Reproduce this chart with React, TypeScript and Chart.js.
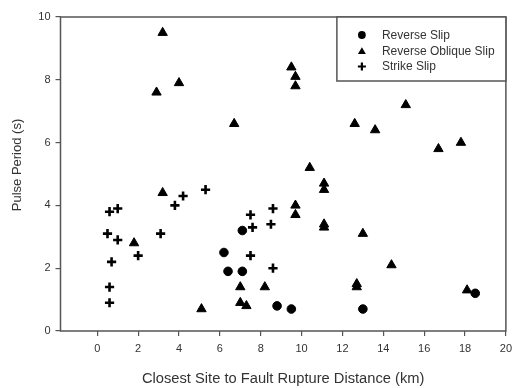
import React, { useEffect, useRef } from "react";
import { Chart, registerables } from "chart.js";

Chart.register(...registerables);

const xTicks = [0, 2, 4, 6, 8, 10, 12, 14, 16, 18, 20];
const yTicks = [0, 2, 4, 6, 8, 10];

const reverseX = [6.2, 6.4, 7.1, 7.1, 8.8, 9.5, 13.0, 18.5];
const reverseY = [2.5, 1.9, 1.9, 3.2, 0.8, 0.7, 0.7, 1.2];

const obliqueX = [3.2, 4.0, 2.9, 6.7, 9.5, 9.7, 9.7, 15.1, 12.6, 13.6, 16.7, 17.8, 10.4, 11.1, 11.1, 9.7, 9.7, 11.1, 11.1, 13.0, 14.4, 12.7, 12.7, 18.1, 3.2, 1.8, 5.1, 7.0, 8.2, 7.0, 7.3];
const obliqueY = [9.5, 7.9, 7.6, 6.6, 8.4, 8.1, 7.8, 7.2, 6.6, 6.4, 5.8, 6.0, 5.2, 4.7, 4.5, 4.0, 3.7, 3.4, 3.3, 3.1, 2.1, 1.5, 1.4, 1.3, 4.4, 2.8, 0.7, 1.4, 1.4, 0.9, 0.8];

const strikeX = [0.6, 1.0, 0.5, 1.0, 0.7, 0.6, 0.6, 2.0, 3.1, 3.8, 4.2, 5.3, 7.5, 8.6, 7.6, 8.5, 7.5, 8.6];
const strikeY = [3.8, 3.9, 3.1, 2.9, 2.2, 1.4, 0.9, 2.4, 3.1, 4.0, 4.3, 4.5, 3.7, 3.9, 3.3, 3.4, 2.4, 2.0];

const seriesNames = ["Reverse Slip", "Reverse Oblique Slip", "Strike Slip"];
const xTitle = "Closest Site to Fault Rupture Distance (km)";
const yTitle = "Pulse Period (s)";

const FONT = "Arial, 'Liberation Sans', sans-serif";
const AXIS = "#555555";
const TEXT = "#333333";

const toPts = (xs: number[], ys: number[]) => xs.map((x, i) => ({ x, y: ys[i] }));

function drawMarker(ctx: CanvasRenderingContext2D, kind: number, x: number, y: number) {
  ctx.fillStyle = "#000";
  ctx.strokeStyle = "#000";
  ctx.beginPath();
  if (kind === 0) {
    ctx.arc(x, y, 3.9, 0, Math.PI * 2);
    ctx.fill();
  } else if (kind === 1) {
    const r = 4.6;
    for (let k = 0; k < 3; k++) {
      const a = -Math.PI / 2 + (k * 2 * Math.PI) / 3;
      const px = x + Math.cos(a) * r;
      const py = y + 0.8 + Math.sin(a) * r;
      if (k === 0) ctx.moveTo(px, py);
      else ctx.lineTo(px, py);
    }
    ctx.closePath();
    ctx.fill();
  } else {
    ctx.lineWidth = 2.2;
    ctx.moveTo(x - 4, y);
    ctx.lineTo(x + 4, y);
    ctx.moveTo(x, y - 4);
    ctx.lineTo(x, y + 4);
    ctx.stroke();
  }
}

const framePlugin = {
  id: "frameLegend",
  afterDraw(chart: any) {
    const { ctx, chartArea } = chart;
    ctx.save();
    ctx.strokeStyle = AXIS;
    ctx.lineWidth = 1.5;
    ctx.strokeRect(chartArea.left, chartArea.top, chartArea.right - chartArea.left, chartArea.bottom - chartArea.top);

    // y title
    ctx.save();
    ctx.translate(17.5, (chartArea.top + chartArea.bottom) / 2 - 9);
    ctx.rotate(-Math.PI / 2);
    ctx.font = "13px " + FONT;
    ctx.fillStyle = TEXT;
    ctx.textAlign = "center";
    ctx.textBaseline = "middle";
    ctx.fillText(yTitle, 0, 0);
    ctx.restore();

    const w = 169;
    const h = 64;
    const lx = chartArea.right - w;
    const ly = chartArea.top;
    ctx.fillStyle = "#ffffff";
    ctx.fillRect(lx, ly, w, h);
    ctx.strokeStyle = AXIS;
    ctx.lineWidth = 1.5;
    ctx.strokeRect(lx, ly, w, h);
    const rows = [18, 34, 49.5];
    ctx.font = "12px " + FONT;
    ctx.textBaseline = "middle";
    chart.data.datasets.forEach((ds: any, i: number) => {
      const y = ly + rows[i];
      drawMarker(ctx, i, lx + 25, y);
      ctx.fillStyle = TEXT;
      ctx.fillText(ds.label, lx + 45, y + 0.5);
    });
    ctx.restore();
  },
};

export default function App() {
  const ref = useRef<HTMLCanvasElement>(null);
  useEffect(() => {
    if (!ref.current) return;
    const chart = new Chart(ref.current, {
      type: "scatter",
      data: {
        datasets: [
          {
            label: seriesNames[0],
            data: toPts(reverseX, reverseY),
            pointStyle: "circle",
            pointRadius: 4.3,
            backgroundColor: "#000",
            borderColor: "#000",
            borderWidth: 1,
          },
          {
            label: seriesNames[1],
            data: toPts(obliqueX, obliqueY),
            pointStyle: "triangle",
            pointRadius: 5.4,
            backgroundColor: "#000",
            borderColor: "#000",
            borderWidth: 1,
          },
          {
            label: seriesNames[2],
            data: toPts(strikeX, strikeY),
            pointStyle: "cross",
            pointRadius: 4.6,
            backgroundColor: "#000",
            borderColor: "#000",
            borderWidth: 2.6,
          },
        ],
      },
      options: {
        animation: false,
        responsive: false,
        events: [],
        layout: { padding: { left: 0, top: 17, right: 10.5, bottom: 0 } },
        plugins: {
          legend: { display: false },
          tooltip: { enabled: false },
        },
        scales: {
          x: {
            type: "linear",
            min: -1.8,
            max: 20,
            afterBuildTicks: (s: any) => {
              s.ticks = xTicks.map((v) => ({ value: v }));
            },
            afterFit: (s: any) => {
              s.height = 57;
            },
            border: { display: false },
            grid: { drawOnChartArea: false, drawTicks: true, tickLength: 5, color: AXIS, lineWidth: 1.2 },
            ticks: { color: TEXT, font: { size: 11, family: FONT }, padding: 6, maxRotation: 0 },
            title: {
              display: true,
              text: xTitle,
              color: TEXT,
              font: { size: 14.7, family: FONT },
              padding: { top: 11, bottom: 0 },
            },
          },
          y: {
            type: "linear",
            min: 0,
            max: 10,
            afterBuildTicks: (s: any) => {
              s.ticks = yTicks.map((v) => ({ value: v }));
            },
            afterFit: (s: any) => {
              s.width = 60.5;
            },
            border: { display: false },
            grid: { drawOnChartArea: false, drawTicks: true, tickLength: 5, color: AXIS, lineWidth: 1.2 },
            ticks: { color: TEXT, font: { size: 11, family: FONT }, padding: 5 },
            title: { display: false, text: yTitle },
          },
        },
      },
      plugins: [framePlugin],
    } as any);
    return () => chart.destroy();
  }, []);
  return (
    <div style={{ position: "absolute", left: 0, top: 0, width: 518, height: 388, background: "#fff" }}>
      <canvas ref={ref} width={518} height={388} style={{ display: "block" }} />
    </div>
  );
}
